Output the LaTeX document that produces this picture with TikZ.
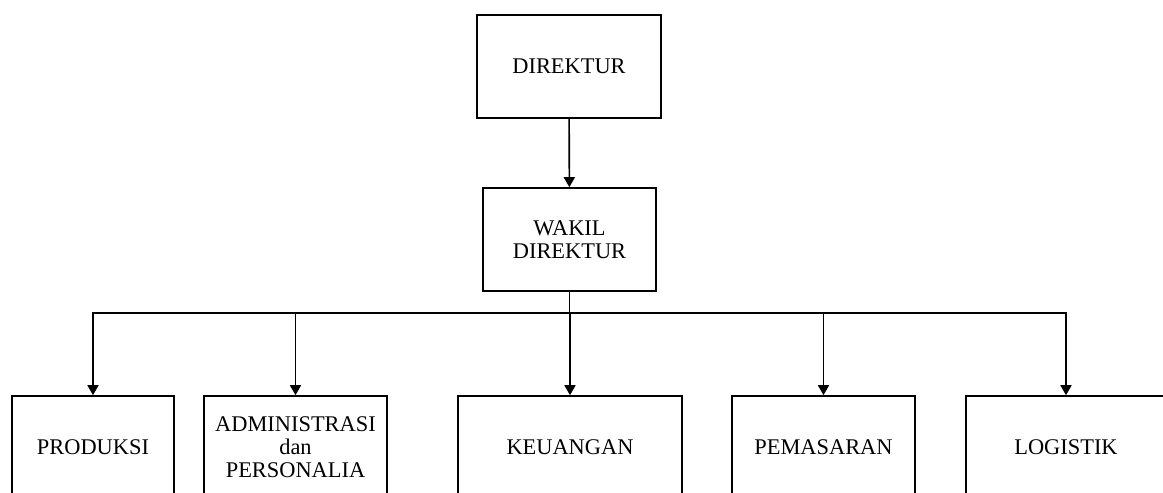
\documentclass[tikz,border=0pt]{standalone}
\usepackage{fontspec}
\setmainfont{Liberation Serif}
\usetikzlibrary{positioning, arrows.meta}

\begin{document}
\begin{tikzpicture}[
    x=0.5pt, y=-0.5pt,
    font=\fontsize{11.2}{11.5}\selectfont,
    % gaya kotak jabatan
    jabatan/.style={rectangle, draw=black, line width=0.8pt, minimum height=51.5pt, text centered, align=center, inner sep=2pt},
    arrow/.style={line width=0.8pt, -{Triangle[width=5.5pt,length=5pt]}},
    line/.style={line width=0.8pt}
  ]
  \clip (0,0) rectangle (1163,493);

  % --- kotak pimpinan ---
  \node[jabatan, minimum width=92pt] (direktur) at (569,66.5) {DIREKTUR};
  \node[jabatan, minimum width=86.5pt] (wakil) at (569.5,239.5) {WAKIL\\DIREKTUR};

  % --- kotak bagian ---
  \node[jabatan, minimum width=81pt] (produksi) at (93,447.5) {PRODUKSI};
  \node[jabatan, minimum width=91.5pt] (admin) at (295.5,447.5) {ADMINISTRASI\\dan\\PERSONALIA};
  \node[jabatan, minimum width=112pt] (keuangan) at (570,447.5) {KEUANGAN};
  \node[jabatan, minimum width=91.5pt] (pemasaran) at (823.5,447.5) {PEMASARAN};
  \node[jabatan, minimum width=100pt] (logistik) at (1066,447.5) {LOGISTIK};

  % --- garis penghubung ---
  \draw[arrow] (direktur) -- (wakil);
  \draw[line] (wakil.south) -- ++(0,21) coordinate (bus);

  \draw[arrow] (bus) -| (produksi.north);
  \draw[arrow] (bus) -| (admin.north);
  \draw[arrow] (bus) -| (keuangan.north);
  \draw[arrow] (bus) -| (pemasaran.north);
  \draw[arrow] (bus) -| (logistik.north);

\end{tikzpicture}
\end{document}
